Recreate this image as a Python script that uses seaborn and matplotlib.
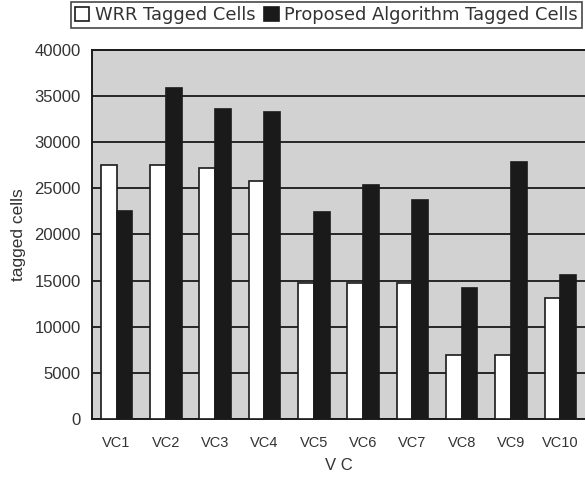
import numpy as np
import pandas as pd
import matplotlib
matplotlib.use('Agg')
import matplotlib.pyplot as plt
import seaborn as sns

# data
vcs = ['VC1', 'VC2', 'VC3', 'VC4', 'VC5', 'VC6', 'VC7', 'VC8', 'VC9', 'VC10']
wrr = [27500, 27500, 27200, 25800, 14700, 14700, 14700, 7000, 7000, 13150]
proposed = [22500, 35900, 33600, 33300, 22400, 25400, 23700, 14200, 27800, 15600]
series = ['WRR Tagged Cells', 'Proposed Algorithm Tagged Cells']

df = pd.DataFrame({
    'VC': vcs * 2,
    'cells': wrr + proposed,
    'series': [series[0]] * len(vcs) + [series[1]] * len(vcs),
})

sns.set_style('white')
plt.rcParams['font.family'] = ['Liberation Sans', 'DejaVu Sans']

fig = plt.figure(figsize=(5.85, 4.84), dpi=100)
ax = fig.add_axes([0.157, 0.134, 0.843, 0.763])
ax.set_facecolor('#d2d2d2')

sns.barplot(
    data=df, x='VC', y='cells', hue='series',
    palette=['white', '#1a1a1a'], edgecolor='#1a1a1a', linewidth=1.2,
    width=0.64, gap=0, ax=ax, zorder=3
)

ax.set_ylim(0, 40000)
ax.set_xlim(-0.5, 9.5)
ax.set_yticks(np.arange(0, 40001, 5000))
ax.yaxis.grid(True, color='#1a1a1a', linewidth=1.3, zorder=1)
ax.set_axisbelow(True)

ax.tick_params(axis='y', length=0, labelsize=12, labelcolor='#333333', pad=8)
ax.tick_params(axis='x', length=0, labelsize=10.5, labelcolor='#333333', pad=12)
ax.set_xticks(np.arange(0.5, 9.5, 1), minor=True)
ax.tick_params(axis='x', which='minor', direction='in', length=3, width=1, color='#333333')

ax.set_ylabel('tagged cells', fontsize=12.5, color='#333333', labelpad=6)
ax.set_xlabel('V C', fontsize=12, color='#333333', labelpad=6)

for side in ['left', 'top', 'bottom']:
    ax.spines[side].set_visible(True)
    ax.spines[side].set_color('#1a1a1a')
    ax.spines[side].set_linewidth(1.4)
ax.spines['right'].set_visible(False)

handles, labels = ax.get_legend_handles_labels()
ax.get_legend().remove()
leg = fig.legend(
    handles, labels, loc='center', bbox_to_anchor=(0.558, 0.969), ncol=2,
    frameon=True, fancybox=False, edgecolor='#1a1a1a',
    prop={'family': 'DejaVu Sans', 'size': 12.9},
    handlelength=0.8, handleheight=0.8, handletextpad=0.3, columnspacing=0.5,
    borderpad=0.25, labelcolor='#333333'
)
leg.get_frame().set_linewidth(1.2)

fig.savefig('out.png', dpi=100)
